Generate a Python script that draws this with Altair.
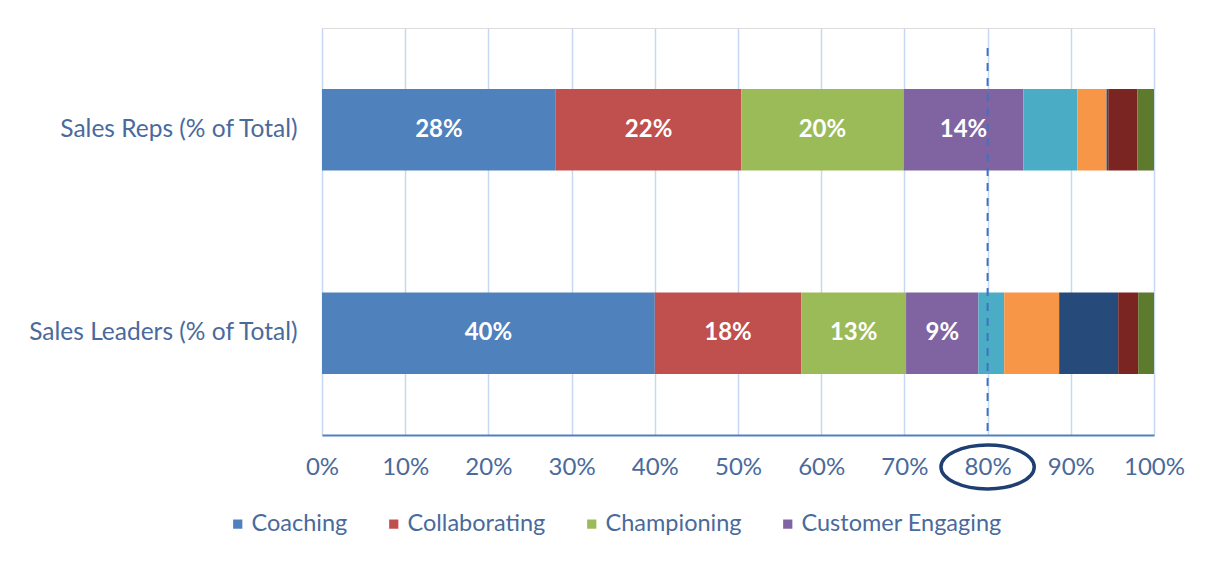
import altair as alt
import pandas as pd

groups = ["Sales Reps (% of Total)", "Sales Leaders (% of Total)"]
categories = ["Coaching", "Collaborating", "Championing", "Customer Engaging",
              "Other 1", "Other 2", "Other 3", "Other 4", "Other 5"]
colors = ["#4F81BD", "#C0504D", "#9BBB59", "#8064A2",
          "#4BACC6", "#F79646", "#264A7A", "#7A2521", "#5E7A2C"]
reps_values = [28.1, 22.3, 19.5, 14.4, 6.5, 3.5, 0.2, 3.5, 2.0]
leaders_values = [40.0, 17.6, 12.6, 8.7, 3.1, 6.6, 7.1, 2.4, 1.9]
labeled = ["Coaching", "Collaborating", "Championing", "Customer Engaging"]
x_ticks = [0, 10, 20, 30, 40, 50, 60, 70, 80, 90, 100]
marker_value = [80]

rows = []
for g, vals in zip(groups, [reps_values, leaders_values]):
    for i, (c, v) in enumerate(zip(categories, vals)):
        rows.append({"group": g, "category": c, "idx": i, "value": v,
                     "show": c in labeled})
df = pd.DataFrame(rows)
marker_df = pd.DataFrame({"x": marker_value})

FONT = "Lato"
TXT = "#4A6A9C"

xscale = alt.Scale(domain=[0, 100], nice=False)

bars = alt.Chart(df).mark_bar().encode(
    y=alt.Y("group:N", sort=groups,
            scale=alt.Scale(paddingInner=0.6, paddingOuter=0.3),
            axis=alt.Axis(title=None, labelFontSize=24.5, labelColor=TXT, labelFont=FONT,
                          domain=False, ticks=False, labelPadding=25,
                          minExtent=309, maxExtent=309, labelLimit=400)),
    x=alt.X("value:Q", stack="zero", scale=xscale,
            axis=alt.Axis(title=None, values=x_ticks, labelExpr="datum.value + '%'",
                          labelFontSize=24, labelColor=TXT, labelFont=FONT,
                          labelFlush=False, labelOverlap=False,
                          grid=True, gridColor="#C6D9F0", gridWidth=1.5,
                          domainColor="#4F81BD", domainWidth=2, ticks=False,
                          labelPadding=20)),
    color=alt.Color("category:N", scale=alt.Scale(domain=categories, range=colors),
                    legend=alt.Legend(values=labeled, title=None, orient="none",
                                      legendX=-96, legendY=484, direction="horizontal",
                                      columns=4, symbolType="square", symbolSize=85,
                                      symbolStrokeWidth=0, labelFontSize=23.5,
                                      labelFont=FONT, labelColor=TXT, labelOffset=2,
                                      labelLimit=400, columnPadding=34)),
    order=alt.Order("idx:Q", sort="ascending"),
)

labels = alt.Chart(df).transform_filter("datum.show").transform_stack(
    stack="value", groupby=["group"], as_=["v0", "v1"],
    sort=[alt.SortField("idx", order="ascending")]
).transform_calculate(
    mid="(datum.v0 + datum.v1) / 2", txt="format(datum.value, '.0f') + '%'"
).mark_text(color="white", fontSize=24, fontWeight="bold", font=FONT).encode(
    y=alt.Y("group:N", sort=groups),
    x=alt.X("mid:Q", scale=xscale),
    text="txt:N",
)

rule = alt.Chart(marker_df).mark_rule(color="#3F72C0", strokeDash=[8, 7],
                                      strokeWidth=2).encode(
    x=alt.X("x:Q", scale=xscale), y=alt.value(20), y2=alt.value(410)
)

ellipse = alt.Chart(marker_df).mark_point(
    shape="M -1 0 A 1 0.47 0 1 1 1 0 A 1 0.47 0 1 1 -1 0 Z",
    size=8700, filled=False, stroke="#1F3F73", strokeWidth=3.5, opacity=1
).encode(x=alt.X("x:Q", scale=xscale), y=alt.value(439))

chart = alt.layer(bars, labels, rule, ellipse).properties(
    width=832, height=407,
    padding={"left": 5, "top": 20, "right": 5, "bottom": 5},
).configure_view(stroke=None).configure(background="white")

chart.save("out.html", embed_options={"renderer": "svg", "actions": False})
